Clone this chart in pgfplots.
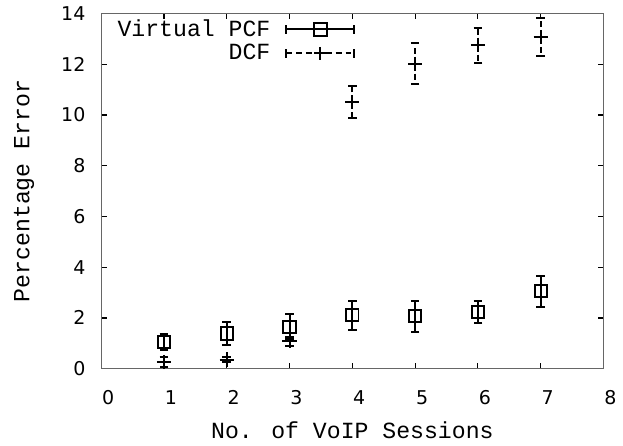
\documentclass[border=0pt]{standalone}
\usepackage{pgfplots}
\pgfplotsset{compat=1.18}
\usepackage{fontspec}
\setmainfont{Liberation Mono}
\newfontfamily\numfont{DejaVu Sans}

% Percentage error per number of VoIP sessions (mean, upper and lower error)
\pgfplotstableread{
x  y     ep    em
1  1.04  0.33  0.30
2  1.39  0.43  0.45
3  1.63  0.54  0.48
4  2.11  0.57  0.57
5  2.08  0.60  0.62
6  2.24  0.44  0.44
7  3.05  0.62  0.63
}\pcfdata
\pgfplotstableread{
x  y      ep    em
1  0.26   0.20  0.18
2  0.36   0.10  0.10
3  1.10   0.15  0.21
4  10.50  0.66  0.63
5  12.02  0.81  0.78
6  12.77  0.66  0.72
7  13.07  0.77  0.76
}\dcfdata

\newcommand\labelfont{\fontsize{11.7}{13}\selectfont}

% legend sample: horizontal error bar with end caps and the mark in the middle
\pgfplotsset{
  errlegend/.style 2 args={
    legend image code/.code={
      \draw[#1, line width=1pt] (0pt,0pt) -- (34.5pt,0pt);
      \draw[solid, line width=1pt] (0pt,-2.2pt) -- (0pt,2.2pt)
        (34.5pt,-2.2pt) -- (34.5pt,2.2pt);
      \draw[solid, line width=1pt, mark=#2, mark size=3.3pt, mark options={fill=white}]
        plot coordinates {(17.25pt,0pt)};
    }
  }
}

\begin{document}
\begin{tikzpicture}
\begin{axis}[
  scale only axis,
  width=253.8pt, height=179.5pt,
  xmin=0, xmax=8, ymin=0, ymax=14,
  xtick={0,...,8}, ytick={0,2,...,14},
  tick align=inside,
  major tick length=3pt,
  axis line style={line width=0.8pt, black!60},
  tick style={line width=0.6pt, black},
  /pgf/number format/assume math mode=true,
  ticklabel style={font=\numfont\fontsize{9.6}{11}\selectfont},
  xticklabel style={xshift=3.5pt, yshift=-7.5pt},
  yticklabel style={xshift=-4.5pt},
  xlabel={No. of VoIP Sessions},
  ylabel={Percentage Error},
  every axis x label/.style={at={(axis description cs:0.5,0)}, anchor=center,
    yshift=-31pt, font=\labelfont},
  every axis y label/.style={at={(axis description cs:0,0.5)}, anchor=center,
    rotate=90, yshift=39pt, font=\labelfont},
  legend plot pos=right,
  legend cell align=right,
  legend style={draw=none, fill=none, at={(axis cs:0.19,13.94)}, anchor=north west,
    font=\labelfont, row sep=-1.5pt, inner sep=0pt, column sep=5.5pt},
]
\addplot[black, line width=1pt, only marks, mark=square, mark size=3.1pt,
  errlegend={solid}{square},
  error bars/.cd, y dir=both, y explicit,
  error bar style={line width=1pt, black},
  error mark options={rotate=90, mark size=2.2pt, line width=1pt}]
  table[x=x, y=y, y error plus=ep, y error minus=em] {\pcfdata};
\addlegendentry{Virtual PCF}
\addplot[black, line width=1pt, only marks, mark=+, mark size=3.6pt,
  errlegend={densely dashed}{+},
  error bars/.cd, y dir=both, y explicit,
  error bar style={line width=1pt, black, densely dashed},
  error mark options={rotate=90, mark size=2.2pt, line width=1pt}]
  table[x=x, y=y, y error plus=ep, y error minus=em] {\dcfdata};
\addlegendentry{DCF}
\end{axis}
\path (current axis.south west) ++(-51.2pt,-37pt) rectangle ([shift={(6.5pt,5.5pt)}]current axis.north east);
\end{tikzpicture}
\end{document}
